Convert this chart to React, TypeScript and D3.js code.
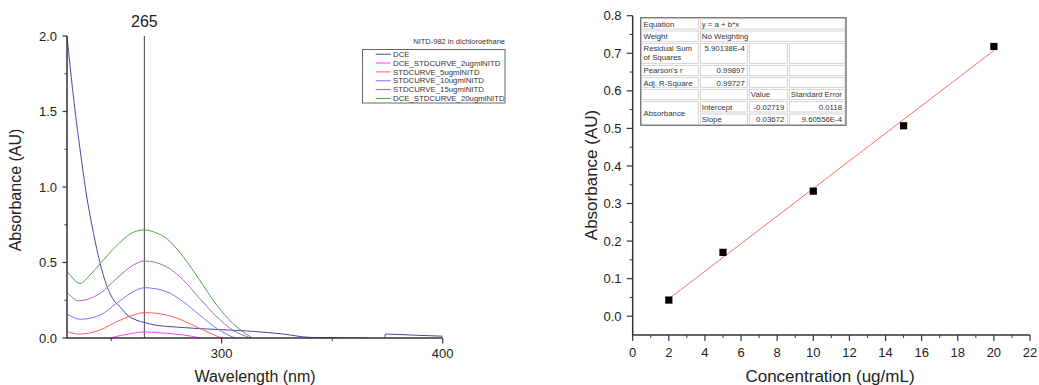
import React from "react";
import * as d3 from "d3";

const FONT = "Arial, 'Liberation Sans', Helvetica, sans-serif";
const TXT = "#222";

// ---------- Left chart: UV spectra ----------
const legendTitle = "NITD-982 in dichloroethane";
const seriesNames = [
  "DCE",
  "DCE_STDCURVE_2ugmlNITD",
  "STDCURVE_5ugmlNITD",
  "STDCURVE_10ugmlNITD",
  "STDCURVE_15ugmlNITD",
  "DCE_STDCURVE_20ugmlNITD",
];
const seriesColors = ["#4646b0", "#ff3cff", "#ff5e5e", "#7676ff", "#ac68b4", "#48a648"];

const dceWl = [230, 231.4, 233.6, 235.9, 238.9, 241.9, 244.9, 247.9, 251.7, 254, 257, 261.5, 265, 270, 280, 290, 300, 313, 328, 340, 365, 370, 373.8, 374, 385, 400];
const dceAbs = [2.0, 1.8, 1.51, 1.25, 0.94, 0.7, 0.5, 0.35, 0.24, 0.207, 0.155, 0.118, 0.103, 0.085, 0.072, 0.062, 0.055, 0.045, 0.026, 0.004, 0.0, -0.01, -0.01, 0.026, 0.02, 0.012];

const s2Wl = [245, 249.5, 255.5, 265, 275, 282.6, 290, 294];
const s2Abs = [-0.02, 0.0, 0.02, 0.04, 0.031, 0.02, 0.002, -0.01];

const s5Wl = [228, 230, 235, 245, 252.5, 260, 265, 275, 282.6, 290, 300, 304];
const s5Abs = [0.046, 0.042, 0.026, 0.053, 0.108, 0.152, 0.168, 0.152, 0.115, 0.064, 0.0, -0.02];

const s10Wl = [228, 230, 236, 245, 252.5, 260, 265, 275, 282.6, 290, 297.7, 306, 310];
const s10Abs = [0.17, 0.157, 0.124, 0.152, 0.23, 0.307, 0.333, 0.307, 0.24, 0.152, 0.064, 0.0, -0.02];

const s15Wl = [228, 230, 235, 245, 252.5, 260, 265, 275, 282.6, 290, 297.7, 305, 312.8, 316];
const s15Abs = [0.32, 0.3, 0.247, 0.296, 0.395, 0.483, 0.51, 0.472, 0.384, 0.263, 0.141, 0.053, 0.0, -0.02];

const s20Wl = [228, 230, 235.9, 240.4, 244.9, 252.5, 260, 265, 270.6, 275, 282.6, 290, 297.7, 305, 312.8, 316];
const s20Abs = [0.47, 0.44, 0.362, 0.417, 0.49, 0.612, 0.7, 0.716, 0.695, 0.66, 0.538, 0.384, 0.219, 0.097, 0.009, -0.02];

const seriesWl = [dceWl, s2Wl, s5Wl, s10Wl, s15Wl, s20Wl];
const seriesAbs = [dceAbs, s2Abs, s5Abs, s10Abs, s15Abs, s20Abs];

const markerWl = 265;
const leftXTicks = [300, 400];
const leftXMinor = [250, 350];
const leftYTicks = [0, 0.5, 1.0, 1.5, 2.0];
const leftYMinor = [0.25, 0.75, 1.25, 1.75];

// ---------- Right chart: calibration ----------
const concentrations = [2, 5, 10, 15, 20];
const absorbances = [0.043, 0.17, 0.333, 0.507, 0.718];
const fitIntercept = -0.02719;
const fitSlope = 0.03672;
const rightXTicks = [0, 2, 4, 6, 8, 10, 12, 14, 16, 18, 20, 22];
const rightXMinor = [1, 3, 5, 7, 9, 11, 13, 15, 17, 19, 21];
const rightYTicks = [0, 0.1, 0.2, 0.3, 0.4, 0.5, 0.6, 0.7, 0.8];
const rightYMinor = [0.05, 0.15, 0.25, 0.35, 0.45, 0.55, 0.65, 0.75];

const tableLabels = ["Equation", "Weight", "Residual Sum|of Squares", "Pearson's r", "Adj. R-Square"];
const tableValues = ["y = a + b*x", "No Weighting", "5.90138E-4", "0.99897", "0.99727"];
const paramHeaders = ["Value", "Standard Error"];
const paramGroup = "Absorbance";
const paramNames = ["Intercept", "Slope"];
const paramValues = ["-0.02719", "0.03672"];
const paramErrors = ["0.0118", "9.60556E-4"];

export default function App() {
  // left scales
  const xL = d3.scaleLinear().domain([230, 400]).range([67, 442.7]);
  const yL = d3.scaleLinear().domain([0, 2]).range([338, 36]);
  const lineL = d3
    .line<[number, number]>()
    .x((d) => xL(d[0]))
    .y((d) => yL(d[1]))
    .curve(d3.curveMonotoneX);

  // right scales
  const xR = d3.scaleLinear().domain([0, 22]).range([632.7, 1030]);
  const yR = d3.scaleLinear().domain([-0.05, 0.8]).range([335, 15.7]);

  // table geometry
  const cx = [640.7, 699.3, 748.3, 788.3, 846];
  const ry = [17.7, 30, 42.3, 64.3, 76.7, 88.3, 100.7, 113, 125.3];
  const tfs = 7.8;
  const cellStroke = "#c9c9c9";

  const cells: JSX.Element[] = [];
  const cellRect = (x0: number, y0: number, x1: number, y1: number, k: string) => (
    <rect key={k} x={x0 + 1} y={y0 + 1} width={x1 - x0 - 2} height={y1 - y0 - 2} fill="#fff" stroke={cellStroke} strokeWidth={0.8} />
  );
  for (let r = 0; r < 2; r++) {
    cells.push(cellRect(cx[0], ry[r], cx[1], ry[r + 1], `l${r}`));
    cells.push(cellRect(cx[1], ry[r], cx[4], ry[r + 1], `v${r}`));
  }
  for (let r = 2; r < 6; r++) {
    for (let c = 0; c < 4; c++) cells.push(cellRect(cx[c], ry[r], cx[c + 1], ry[r + 1], `c${r}${c}`));
  }
  cells.push(cellRect(cx[0], ry[6], cx[1], ry[8], "abs"));
  for (let r = 6; r < 8; r++) {
    for (let c = 1; c < 4; c++) cells.push(cellRect(cx[c], ry[r], cx[c + 1], ry[r + 1], `p${r}${c}`));
  }

  const texts: JSX.Element[] = [];
  tableLabels.forEach((lab, i) => {
    const parts = lab.split("|");
    parts.forEach((p, j) => {
      texts.push(
        <text key={`tl${i}${j}`} x={cx[0] + 2.8} y={ry[i] + 9 + j * 8.3}>
          {p}
        </text>
      );
    });
  });
  tableValues.forEach((v, i) => {
    if (i < 2) {
      texts.push(
        <text key={`tv${i}`} x={cx[1] + 2.5} y={ry[i] + 9}>
          {v}
        </text>
      );
    } else {
      texts.push(
        <text key={`tv${i}`} x={cx[2] - 3.5} y={ry[i] + 9} textAnchor="end">
          {v}
        </text>
      );
    }
  });
  paramHeaders.forEach((h, i) => {
    texts.push(
      <text key={`ph${i}`} x={cx[2 + i] + 2.5} y={ry[5] + 9}>
        {h}
      </text>
    );
  });
  texts.push(
    <text key="pg" x={cx[0] + 2.8} y={(ry[6] + ry[8]) / 2 + 3}>
      {paramGroup}
    </text>
  );
  paramNames.forEach((n, i) => {
    texts.push(
      <text key={`pn${i}`} x={cx[1] + 2.5} y={ry[6 + i] + 9}>
        {n}
      </text>
    );
    texts.push(
      <text key={`pv${i}`} x={cx[3] - 4} y={ry[6 + i] + 9} textAnchor="end">
        {paramValues[i]}
      </text>
    );
    texts.push(
      <text key={`pe${i}`} x={cx[4] - 4} y={ry[6 + i] + 9} textAnchor="end">
        {paramErrors[i]}
      </text>
    );
  });

  const fitX = [concentrations[0], concentrations[concentrations.length - 1]];
  const axisColor = "#333";

  return (
    <svg
      width={1039}
      height={385}
      style={{ position: "absolute", left: 0, top: 0, background: "#fff", fontFamily: FONT }}
    >
      <rect x={0} y={0} width={1039} height={385} fill="#fff" />
      <defs>
        <clipPath id="clipL">
          <rect x={67} y={30} width={442.7 - 67} height={338 - 30} />
        </clipPath>
      </defs>

      {/* ---------------- LEFT CHART ---------------- */}
      <line x1={xL(markerWl)} x2={xL(markerWl)} y1={yL(2)} y2={yL(0)} stroke="#444" strokeWidth={1} />
      <text x={xL(markerWl)} y={27} textAnchor="middle" fontSize={16} fill={TXT}>
        {markerWl}
      </text>

      <g clipPath="url(#clipL)">
        {seriesWl.map((wl, i) => {
          const pts = wl.map((w, j) => [w, seriesAbs[i][j]] as [number, number]);
          return <path key={i} d={lineL(pts) || ""} fill="none" stroke={seriesColors[i]} strokeWidth={1} />;
        })}
      </g>

      <line x1={67} x2={67} y1={yL(2)} y2={yL(0)} stroke={axisColor} strokeWidth={1.5} />
      <line x1={67} x2={xL(400)} y1={yL(0)} y2={yL(0)} stroke={axisColor} strokeWidth={1.5} />
      {leftYTicks.map((t) => (
        <g key={`ly${t}`}>
          <line x1={62.5} x2={67} y1={yL(t)} y2={yL(t)} stroke={axisColor} strokeWidth={1.2} />
          <text x={57} y={yL(t)} dy="0.35em" textAnchor="end" fontSize={13} fill={TXT}>
            {t.toFixed(1)}
          </text>
        </g>
      ))}
      {leftYMinor.map((t) => (
        <line key={`lym${t}`} x1={64.5} x2={67} y1={yL(t)} y2={yL(t)} stroke={axisColor} strokeWidth={1} />
      ))}
      {leftXTicks.map((t) => (
        <g key={`lx${t}`}>
          <line x1={xL(t)} x2={xL(t)} y1={yL(0)} y2={yL(0) + 5.5} stroke={axisColor} strokeWidth={1.2} />
          <text x={xL(t)} y={358} textAnchor="middle" fontSize={13} fill={TXT}>
            {t}
          </text>
        </g>
      ))}
      {leftXMinor.map((t) => (
        <line key={`lxm${t}`} x1={xL(t)} x2={xL(t)} y1={yL(0)} y2={yL(0) + 3} stroke={axisColor} strokeWidth={1} />
      ))}
      <text
        transform={`translate(21,${(yL(0) + yL(2)) / 2 + 3}) rotate(-90)`}
        textAnchor="middle"
        fontSize={16}
        fill={TXT}
      >
        Absorbance (AU)
      </text>
      <text x={255} y={382} textAnchor="middle" fontSize={16} fill={TXT}>
        Wavelength (nm)
      </text>

      <text x={505} y={44} textAnchor="end" fontSize={7.5} fill="#333">
        {legendTitle}
      </text>
      <rect x={362.5} y={49.5} width={142.5} height={53.5} fill="#fff" stroke="#666" strokeWidth={1} />
      {seriesNames.map((n, i) => (
        <g key={`lg${i}`}>
          <line x1={375.7} x2={390.7} y1={54.2 + i * 8.85} y2={54.2 + i * 8.85} stroke={seriesColors[i]} strokeWidth={1} />
          <text x={393} y={54.2 + i * 8.85} dy="0.35em" fontSize={7.8} fill="#333">
            {n}
          </text>
        </g>
      ))}

      {/* ---------------- RIGHT CHART ---------------- */}
      <line
        x1={xR(fitX[0])}
        x2={xR(fitX[1])}
        y1={yR(fitIntercept + fitSlope * fitX[0])}
        y2={yR(fitIntercept + fitSlope * fitX[1])}
        stroke="#ff6b6b"
        strokeWidth={1}
      />
      {concentrations.map((c, i) => (
        <rect key={`pt${i}`} x={xR(c) - 3.6} y={yR(absorbances[i]) - 3.6} width={7.2} height={7.2} fill="#000" />
      ))}

      <line x1={xR(0)} x2={xR(0)} y1={yR(0.8)} y2={yR(-0.05)} stroke={axisColor} strokeWidth={1.5} />
      <line x1={xR(0)} x2={xR(22)} y1={yR(-0.05)} y2={yR(-0.05)} stroke={axisColor} strokeWidth={1.5} />
      {rightYTicks.map((t) => (
        <g key={`ry${t}`}>
          <line x1={xR(0) - 6} x2={xR(0)} y1={yR(t)} y2={yR(t)} stroke={axisColor} strokeWidth={1.2} />
          <text x={621.5} y={yR(t)} dy="0.35em" textAnchor="end" fontSize={13} fill={TXT}>
            {t.toFixed(1)}
          </text>
        </g>
      ))}
      {rightYMinor.map((t) => (
        <line key={`rym${t}`} x1={xR(0) - 3} x2={xR(0)} y1={yR(t)} y2={yR(t)} stroke={axisColor} strokeWidth={1} />
      ))}
      {rightXTicks.map((t) => (
        <g key={`rx${t}`}>
          <line x1={xR(t)} x2={xR(t)} y1={yR(-0.05)} y2={yR(-0.05) + 6} stroke={axisColor} strokeWidth={1.2} />
          <text x={xR(t)} y={357} textAnchor="middle" fontSize={13} fill={TXT}>
            {t}
          </text>
        </g>
      ))}
      {rightXMinor.map((t) => (
        <line key={`rxm${t}`} x1={xR(t)} x2={xR(t)} y1={yR(-0.05)} y2={yR(-0.05) + 3} stroke={axisColor} strokeWidth={1} />
      ))}
      <text
        transform={`translate(597,${175}) rotate(-90)`}
        textAnchor="middle"
        fontSize={17}
        fill={TXT}
      >
        Absorbance (AU)
      </text>
      <text x={830} y={381.5} textAnchor="middle" fontSize={17} fill={TXT}>
        Concentration (ug/mL)
      </text>

      <g>
        <rect x={cx[0]} y={ry[0]} width={cx[4] - cx[0]} height={ry[8] - ry[0]} fill="#fff" stroke="#777" strokeWidth={1} />
        {cells}
        <rect x={cx[0]} y={ry[0]} width={cx[4] - cx[0]} height={ry[8] - ry[0]} fill="none" stroke="#777" strokeWidth={1} />
        <g fontSize={tfs} fill="#333">
          {texts}
        </g>
      </g>
    </svg>
  );
}
